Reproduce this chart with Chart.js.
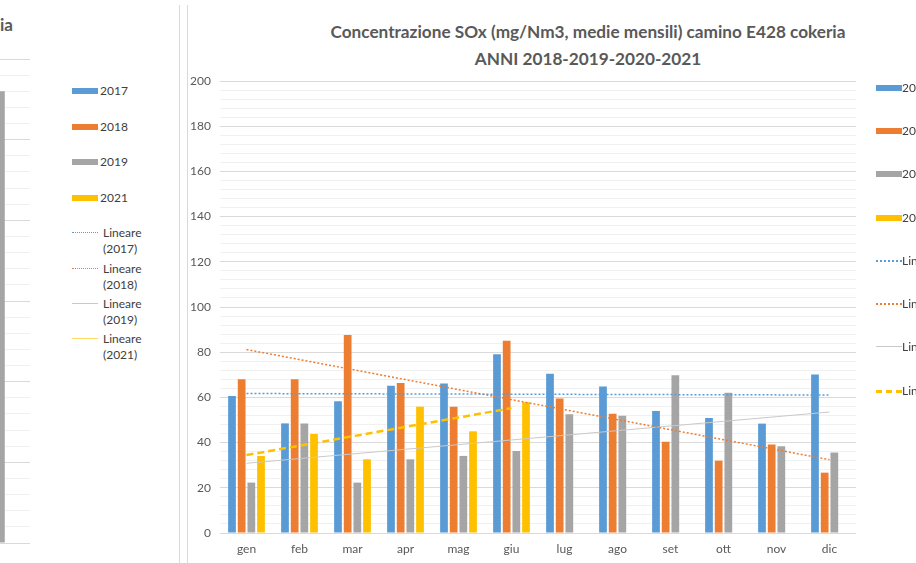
<!DOCTYPE html>
<html>
<head>
<meta charset="utf-8">
<script src="https://cdn.jsdelivr.net/npm/chart.js@4/dist/chart.umd.min.js"></script>
<style>
  html, body { margin: 0; padding: 0; background: #fff; overflow: hidden; }
  body { width: 916px; height: 563px; position: relative; font-family: Lato, "Open Sans", sans-serif; color: #404040; }
  .abs { position: absolute; }
  .vline { position: absolute; top: 5px; bottom: 0; width: 1px; background: #d9d9d9; }
  .title { position: absolute; font-weight: bold; font-size: 17.2px; color: #595959; white-space: nowrap; transform: translate(-50%, -50%); }
  .leg { position: absolute; font-size: 12px; line-height: 16px; white-space: nowrap; color: #404040; }
  .sw { position: absolute; width: 26px; height: 6px; }
  .ln { position: absolute; width: 26px; height: 0; }
</style>
</head>
<body>
<div class="abs" id="left" style="left:0;top:0;width:179px;height:563px;overflow:hidden;">
  <div class="abs" style="left:0;top:14px;font-weight:bold;font-size:17px;color:#595959;">ia</div>
  <canvas id="left-chart" style="position:absolute;left:-29px;top:0;"></canvas>
  <div id="left-legend"></div>
</div>
<div class="vline" style="left:179px"></div>
<div class="vline" style="left:187px"></div>
<div class="title" id="t1" style="left:588px;top:31px"></div>
<div class="title" id="t2" style="left:588px;top:58px"></div>
<canvas id="main-chart" style="position:absolute;left:188px;top:0;"></canvas>
<div id="main-legend"></div>

<script>
(() => {
    // data
    const months = ['gen', 'feb', 'mar', 'apr', 'mag', 'giu', 'lug', 'ago', 'set', 'ott', 'nov', 'dic'];
    const years = ['2018', '2019', '2020', '2021'];
    const sox2018 = [60.6, 48.5, 58.3, 65.2, 66.2, 79.1, 70.5, 64.8, 54.0, 50.9, 48.4, 70.1];
    const sox2019 = [68.0, 68.0, 87.6, 66.4, 55.9, 85.1, 59.5, 52.8, 40.4, 32.0, 39.2, 26.7];
    const sox2020 = [22.3, 48.5, 22.3, 32.6, 34.1, 36.3, 52.5, 51.9, 69.8, 62.1, 38.4, 35.6];
    const sox2021 = [34.1, 43.8, 32.6, 55.9, 45.0, 57.8, null, null, null, null, null, null];
    const titleLines = ['Concentrazione SOx (mg/Nm3, medie mensili) camino E428 cokeria', 'ANNI 2018-2019-2020-2021'];

    // partial chart on the left
    const leftYears = ['2017', '2018', '2019', '2021'];
    const leftLast = [56];

    const colors = ['#5B9BD5', '#ED7D31', '#A5A5A5', '#FFC000'];
    const series = [sox2018, sox2019, sox2020, sox2021];

    document.getElementById('t1').innerText = titleLines[0];
    document.getElementById('t2').innerText = titleLines[1];

    // excel style linear trend over the months that have data
    const trend = (vals) => {
        const pts = [];
        vals.forEach((v, i) => { if (v !== null) pts.push([i + 1, v]); });
        const n = pts.length;
        const mx = pts.reduce((s, p) => s + p[0], 0) / n;
        const my = pts.reduce((s, p) => s + p[1], 0) / n;
        let sxy = 0, sxx = 0;
        pts.forEach(p => { sxy += (p[0] - mx) * (p[1] - my); sxx += (p[0] - mx) ** 2; });
        const b = sxy / sxx, a = my - b * mx;
        const first = pts[0][0], last = pts[n - 1][0];
        return vals.map((v, i) => (i + 1 >= first && i + 1 <= last) ? a + b * (i + 1) : null);
    };

    const trendStyles = [
        { color: '#5B9BD5', width: 1.5, dash: [2, 2] },
        { color: '#ED7D31', width: 1.5, dash: [2, 2] },
        { color: '#C9C9C9', width: 1, dash: [] },
        { color: '#FFC000', width: 2.5, dash: [7, 4] },
    ];

    const datasets = [];
    years.forEach((y, i) => {
        datasets.push({
            type: 'bar', label: y, data: series[i], backgroundColor: colors[i],
            categoryPercentage: 0.73, barPercentage: 0.8, order: 2,
        });
    });
    years.forEach((y, i) => {
        const st = trendStyles[i];
        datasets.push({
            type: 'line', label: 'Lineare (' + y + ')', data: trend(series[i]),
            borderColor: st.color, borderWidth: st.width, borderDash: st.dash,
            pointRadius: 0, fill: false, tension: 0, order: 1,
        });
    });

    const gridColor = (c) => (c.tick && c.tick.value % 20 === 0) ? '#D9D9D9' : '#F0F0F0';

    const mainCanvas = document.getElementById('main-chart');
    mainCanvas.width = 728;
    mainCanvas.height = 563;
    new Chart(mainCanvas.getContext('2d'), {
        data: { labels: months, datasets: datasets },
        options: {
            responsive: false,
            animation: false,
            layout: { padding: { left: 0, right: 60, top: 81, bottom: 0 } },
            plugins: { legend: { display: false }, title: { display: false }, tooltip: { enabled: false } },
            scales: {
                x: {
                    grid: { display: false, drawTicks: false },
                    border: { display: false },
                    ticks: { color: '#595959', font: { family: 'Lato', size: 12 }, padding: 9, maxRotation: 0 },
                    afterFit: (s) => { s.height = 30; },
                },
                y: {
                    min: 0, max: 200,
                    grid: { color: gridColor, drawTicks: false, lineWidth: 1 },
                    border: { display: false },
                    ticks: {
                        stepSize: 4, autoSkip: false, padding: 9,
                        color: '#595959', font: { family: 'Lato', size: 12 },
                        callback: (v) => v % 20 === 0 ? v : '',
                    },
                    afterFit: (s) => { s.width = 32; },
                },
            },
        },
    });

    // left fragment of the previous chart
    const leftCanvas = document.getElementById('left-chart');
    leftCanvas.width = 59;
    leftCanvas.height = 563;
    new Chart(leftCanvas.getContext('2d'), {
        type: 'bar',
        data: { labels: ['dic'], datasets: [{ label: '2019', data: leftLast, backgroundColor: '#A5A5A5', categoryPercentage: 1, barPercentage: 0.145 }] },
        options: {
            responsive: false,
            animation: false,
            layout: { padding: { left: 0, right: 0, top: 59, bottom: 20 } },
            plugins: { legend: { display: false }, tooltip: { enabled: false } },
            scales: {
                x: { display: false },
                y: {
                    min: 0, max: 60,
                    grid: { color: (c) => (c.tick && c.tick.value % 10 === 0) ? '#D9D9D9' : '#F0F0F0', drawTicks: false },
                    border: { display: false },
                    ticks: { display: false, stepSize: 2, autoSkip: false },
                    afterFit: (s) => { s.width = 0; },
                },
            },
        },
    });

    // html legends
    const buildLegend = (el, x, ys, labels, lineStyles, twoLine, gap) => {
        let html = '';
        labels.forEach((lab, i) => {
            const y = ys[i];
            html += `<div class="sw" style="left:${x}px;top:${y - 3}px;background:${colors[i]}"></div>`;
            html += `<div class="leg" style="left:${x + gap}px;top:${y - 8}px">${lab}</div>`;
        });
        labels.forEach((lab, i) => {
            const y = ys[i + 4];
            const st = lineStyles[i];
            const border = st.dash.length ? (st.dash[0] > 3 ? 'dashed' : 'dotted') : 'solid';
            html += `<div class="ln" style="left:${x}px;top:${y - Math.round(st.width / 2)}px;border-top:${Math.max(1, Math.round(st.width))}px ${border} ${st.color}"></div>`;
            if (twoLine) {
                html += `<div class="leg" style="left:${x + gap + 3}px;top:${y - 8}px">Lineare<br>(${lab})</div>`;
            } else {
                html += `<div class="leg" style="left:${x + gap}px;top:${y - 8}px">Lineare (${lab})</div>`;
            }
        });
        el.innerHTML = html;
    };

    const leftLineStyles = [
        { color: '#5B9BD5', width: 1, dash: [1, 1] },
        { color: '#ED7D31', width: 1, dash: [1, 1] },
        { color: '#C9C9C9', width: 1, dash: [] },
        { color: '#FFD966', width: 1, dash: [] },
    ];
    buildLegend(document.getElementById('left-legend'), 72, [91, 127, 162, 198, 233, 269, 304, 339], leftYears, leftLineStyles, true, 28);
    buildLegend(document.getElementById('main-legend'), 876, [88, 131, 174, 218, 261, 304, 347, 391], years, trendStyles, false, 26);
})();
</script>
</body>
</html>
